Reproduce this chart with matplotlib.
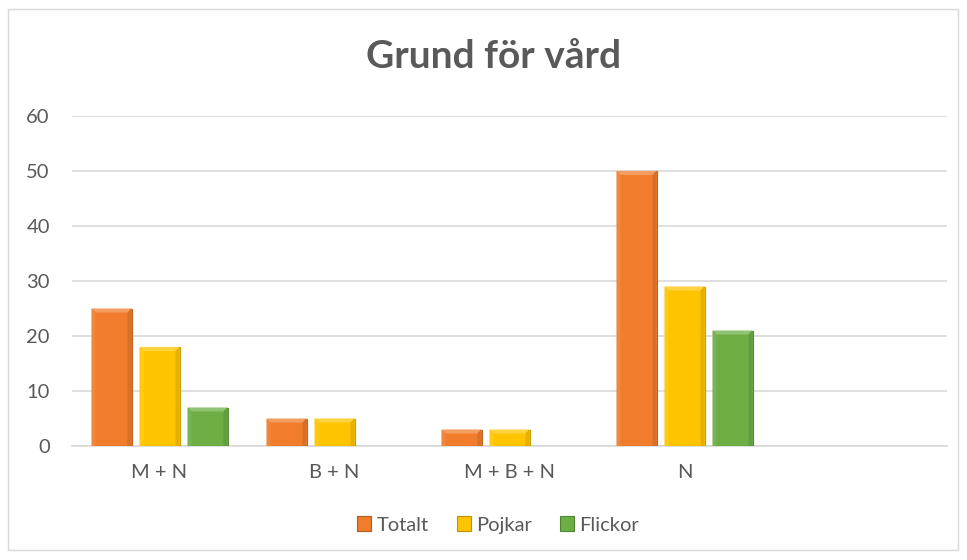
import numpy as np
import matplotlib.pyplot as plt
from matplotlib.patches import Rectangle, Polygon
import matplotlib.colors as mcolors

categories = ['M + N', 'B + N', 'M + B + N', 'N', '']
totalt = [25, 5, 3, 50, 0]
pojkar = [18, 5, 3, 29, 0]
flickor = [7, 0, 0, 21, 0]
series_names = ['Totalt', 'Pojkar', 'Flickor']
series_colors = ['#F07C2C', '#FFC400', '#6DAE45']

plt.rcParams['font.family'] = ['Lato', 'DejaVu Sans']
text_color = '#595959'
grid_color = '#D9D9D9'


def shade(color, factor):
    rgb = np.array(mcolors.to_rgb(color))
    if factor > 1:
        return tuple(rgb + (1 - rgb) * (factor - 1))
    return tuple(rgb * factor)


def beveled_bar(ax, x, h, w, color, bx, by):
    if h <= 0:
        return
    ax.add_patch(Rectangle((x - w / 2, 0), w, h, facecolor=color,
                           edgecolor=shade(color, 0.8), lw=0.8, zorder=3))
    x0, x1 = x - w / 2, x + w / 2
    # top bevel (light)
    ax.add_patch(Polygon([(x0, h), (x1, h), (x1 - bx, h - by), (x0 + bx, h - by)],
                         closed=True, facecolor=shade(color, 1.25), lw=0, zorder=4))
    # left side (slightly light)
    ax.add_patch(Polygon([(x0, 0), (x0, h), (x0 + bx, h - by), (x0 + bx, 0)],
                         closed=True, facecolor=shade(color, 1.08), lw=0, zorder=4))
    # right side (dark)
    ax.add_patch(Polygon([(x1, 0), (x1, h), (x1 - bx, h - by), (x1 - bx, 0)],
                         closed=True, facecolor=shade(color, 0.9), lw=0, zorder=4))


fig = plt.figure(figsize=(9.67, 5.6), dpi=100)
fig.patches.append(Rectangle((8 / 967, 10 / 560), 950 / 967, 541 / 560,
                             transform=fig.transFigure, fill=False,
                             edgecolor=grid_color, lw=1))
ax = fig.add_axes([72 / 967, 1 - 446 / 560, 875 / 967, 330 / 560])

x = np.arange(len(categories))
width = 40 / 175
step = 48 / 175
bx = 4 / 175
by = 4 / 5.5
for i, (vals, color) in enumerate(zip([totalt, pojkar, flickor], series_colors)):
    for xi, v in zip(x, vals):
        beveled_bar(ax, xi + (i - 1) * step, v, width, color, bx, by)

ax.set_xlim(-0.5, len(categories) - 0.5)
ax.set_ylim(0, 60)
ax.set_yticks(range(0, 61, 10))
ax.set_xticks(x)
ax.set_xticklabels(categories)
ax.yaxis.grid(True, color=grid_color, lw=1.2)
ax.set_axisbelow(True)
for s in ['top', 'right', 'left']:
    ax.spines[s].set_visible(False)
ax.spines['bottom'].set_color(grid_color)
ax.spines['bottom'].set_linewidth(1.2)
ax.tick_params(axis='both', length=0, colors=text_color, labelsize=14.5)
ax.tick_params(axis='y', pad=16)
ax.tick_params(axis='x', pad=13)

fig.text(0.51, 1 - 57 / 560, 'Grund för vård', ha='center', va='center',
         fontsize=28, fontweight='bold', color=text_color)

handles = [Rectangle((0, 0), 1, 1, facecolor=c, edgecolor=shade(c, 0.75), lw=0.8)
           for c in series_colors]
fig.legend(handles, series_names, loc='center', bbox_to_anchor=(0.515, 1 - 525 / 560),
           ncol=3, frameon=False, fontsize=14.5, labelcolor=text_color,
           handlelength=0.7, handleheight=0.7, handletextpad=0.25, columnspacing=1.4)

fig.savefig('out.png', dpi=100)
